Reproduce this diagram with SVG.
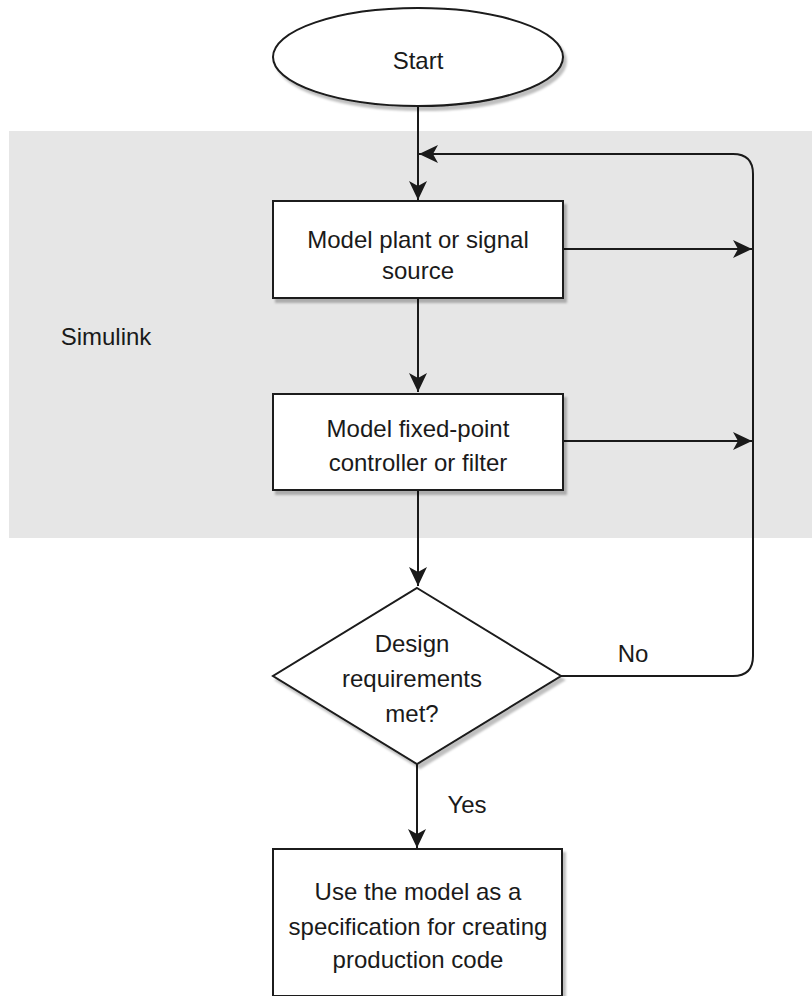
<svg xmlns="http://www.w3.org/2000/svg" width="812" height="996" viewBox="0 0 812 996">
<defs>
<style>
.node{fill:#ffffff;stroke:#1a1a1a;stroke-width:2;filter:url(#sh)}
.t{font-family:"Liberation Sans",Arial,sans-serif;font-size:24px;fill:#1a1a1a;text-anchor:middle}
.edge{fill:none;stroke:#1a1a1a;stroke-width:2}
</style>
<filter id="sh" x="-10%" y="-10%" width="130%" height="130%">
<feDropShadow dx="3" dy="4" stdDeviation="1" flood-color="#000" flood-opacity="0.25"/>
</filter>
<marker id="arr" markerWidth="22" markerHeight="22" refX="20" refY="11" orient="auto" markerUnits="userSpaceOnUse">
<path d="M20,11 L1,2 L6,11 L1,20 Z" fill="#1a1a1a"/>
</marker>
</defs>
<rect width="812" height="996" fill="#ffffff"/>
<g id="simulink">
<rect x="9" y="131" width="803" height="407" fill="#e6e6e6"/>
<text class="t" x="106" y="345">Simulink</text>
</g>
<g id="connectors">
<path class="edge" d="M418,106 V200" marker-end="url(#arr)"/>
<path class="edge" d="M418,298 V392" marker-end="url(#arr)"/>
<path class="edge" d="M418,490 V586" marker-end="url(#arr)"/>
<path class="edge" d="M417,764 V848" marker-end="url(#arr)"/>
<path class="edge" d="M563,249 H752" marker-end="url(#arr)"/>
<path class="edge" d="M563,441 H752" marker-end="url(#arr)"/>
<path class="edge" d="M561,676 H733 Q753,676 753,656 V174 Q753,154 733,154 H419" marker-end="url(#arr)"/>
<text class="t" x="633" y="662">No</text>
<text class="t" x="467" y="813">Yes</text>
</g>
<g id="start">
<ellipse class="node" cx="418" cy="57" rx="145" ry="49"/>
<text class="t" x="418" y="69">Start</text>
</g>
<g id="model-plant">
<rect class="node" x="273" y="201" width="290" height="97"/>
<text class="t" x="418" y="248">Model plant or signal</text>
<text class="t" x="418" y="279">source</text>
</g>
<g id="model-controller">
<rect class="node" x="273" y="394" width="290" height="96"/>
<text class="t" x="418" y="437">Model fixed-point</text>
<text class="t" x="418" y="471">controller or filter</text>
</g>
<g id="decision">
<polygon class="node" points="417,588 561,676 417,764 273,676"/>
<text class="t" x="412" y="652">Design</text>
<text class="t" x="412" y="687">requirements</text>
<text class="t" x="412" y="722">met?</text>
</g>
<g id="production">
<rect class="node" x="273" y="849" width="289" height="147"/>
<text class="t" x="418" y="900">Use the model as a</text>
<text class="t" x="418" y="935">specification for creating</text>
<text class="t" x="418" y="968">production code</text>
</g>
</svg>
